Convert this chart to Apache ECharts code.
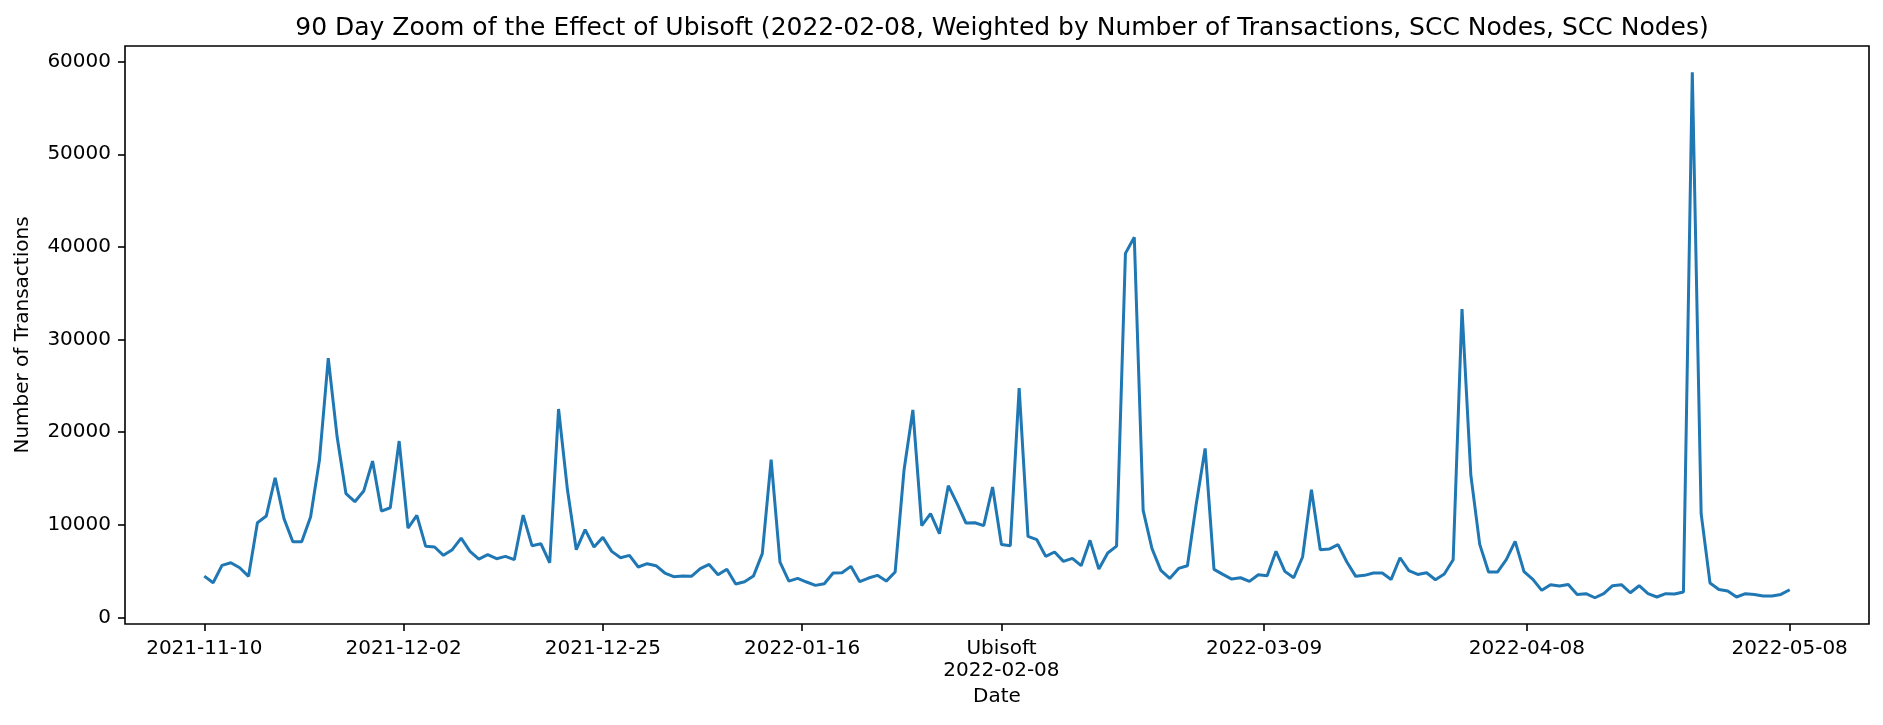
<!DOCTYPE html>
<html>
<head>
<meta charset="utf-8">
<title>90 Day Zoom of the Effect of Ubisoft</title>
<script src="https://cdn.jsdelivr.net/npm/echarts@6/dist/echarts.min.js"></script>
<style>
  html, body { margin: 0; padding: 0; background: #fff; }
  #ch1 { width: 1883px; height: 725px; }
</style>
</head>
<body>
<div id="ch1"></div>
<script>
// day offsets from 2021-11-10, one value per day
var startDate = '2021-11-10';
var transactions = [
  4460, 3740, 5620, 5900, 5360, 4430, 10220, 10940, 15080, 10660,
  8170, 8170, 10840, 16960, 28000, 19470, 13360, 12490, 13640, 16880,
  11480, 11840, 19040, 9650, 11020, 7670, 7600, 6700, 7310, 8550,
  7130, 6300, 6770, 6340, 6590, 6230, 11050, 7740, 7960, 5900,
  22500, 13800, 7310, 9470, 7600, 8640, 7130, 6440, 6700, 5440,
  5800, 5580, 4790, 4390, 4460, 4430, 5260, 5720, 4610, 5200,
  3600, 3850, 4460, 6880, 17030, 5980, 3920, 4210, 3820, 3460,
  3640, 4790, 4820, 5510, 3850, 4250, 4540, 3920, 4900, 15880,
  22400, 9900, 11200, 9040, 14220, 12280, 10190, 10220, 9900, 14080,
  7880, 7740, 24750, 8750, 8390, 6590, 7060, 6050, 6370, 5580,
  8320, 5220, 6950, 7700, 39300, 41050, 11560, 7420, 5080, 4210,
  5290, 5580, 12280, 18250, 5180, 4640, 4140, 4280, 3890, 4610,
  4500, 7130, 4970, 4280, 6520, 13790, 7310, 7380, 7850, 5980,
  4430, 4540, 4790, 4790, 4100, 6440, 5040, 4640, 4820, 4070,
  4680, 6230, 33300, 15340, 7880, 4900, 4900, 6230, 8210, 4950,
  4100, 2920, 3530, 3380, 3560, 2480, 2560, 2120, 2560, 3420,
  3530, 2660, 3420, 2560, 2200, 2560, 2520, 2740, 58850, 11200,
  3710, 3020, 2840, 2200, 2560, 2480, 2300, 2300, 2480, 2990
];
var xTickDays = [0, 22.5, 45, 67.5, 90, 119.667, 149.333, 179];
var xTickLabels = ['2021-11-10', '2021-12-02', '2021-12-25', '2022-01-16',
  'Ubisoft\n2022-02-08', '2022-03-09', '2022-04-08', '2022-05-08'];
var yTicks = [0, 10000, 20000, 30000, 40000, 50000, 60000];

window.onload = function() {
  var ch1 = echarts.init(document.getElementById('ch1'));

  var points = [];
  for (var i = 0; i < transactions.length; i++) {
    points.push([i, transactions[i]]);
  }

  var font = 'DejaVu Sans';
  var op1 = {
    animation: false,
    title: {
      text: '90 Day Zoom of the Effect of Ubisoft (2022-02-08, Weighted by Number of Transactions, SCC Nodes, SCC Nodes)',
      left: 997,
      textAlign: 'center',
      top: 11,
      textStyle: {
        fontFamily: font,
        fontSize: 25,
        fontWeight: 'normal',
        color: '#000'
      }
    },
    grid: {
      left: 125,
      top: 46,
      width: 1744,
      height: 578,
      show: true,
      borderColor: '#000',
      borderWidth: 1.6,
      containLabel: false
    },
    xAxis: {
      type: 'value',
      min: -8.95,
      max: 187.95,
      name: 'Date',
      nameLocation: 'middle',
      nameGap: 62,
      nameTextStyle: { fontFamily: font, fontSize: 20, color: '#000' },
      axisLine: { show: false, onZero: false },
      splitLine: { show: false },
      axisTick: {
        show: true,
        length: 7,
        lineStyle: { color: '#000', width: 1.6 },
        customValues: xTickDays
      },
      axisLabel: {
        margin: 14,
        fontFamily: font,
        fontSize: 20,
        color: '#000',
        lineHeight: 22,
        customValues: xTickDays,
        formatter: function(v) {
          for (var k = 0; k < xTickDays.length; k++) {
            if (Math.abs(xTickDays[k] - v) < 0.01) return xTickLabels[k];
          }
          return '';
        }
      }
    },
    yAxis: {
      type: 'value',
      min: -713,
      max: 61692,
      name: 'Number of Transactions',
      nameLocation: 'middle',
      nameRotate: 90,
      nameGap: 92,
      nameTextStyle: { fontFamily: font, fontSize: 20, color: '#000' },
      axisLine: { show: false, onZero: false },
      splitLine: { show: false },
      axisTick: {
        show: true,
        length: 7,
        lineStyle: { color: '#000', width: 1.6 },
        customValues: yTicks
      },
      axisLabel: {
        margin: 14,
        fontFamily: font,
        fontSize: 20,
        color: '#000',
        customValues: yTicks,
        formatter: function(v) { return String(v); }
      }
    },
    series: [{
      name: 'Number of Transactions',
      type: 'line',
      showSymbol: false,
      symbol: 'none',
      lineStyle: { color: '#1f77b4', width: 3 },
      itemStyle: { color: '#1f77b4' },
      data: points
    }]
  };

  ch1.setOption(op1);
};
</script>
</body>
</html>
